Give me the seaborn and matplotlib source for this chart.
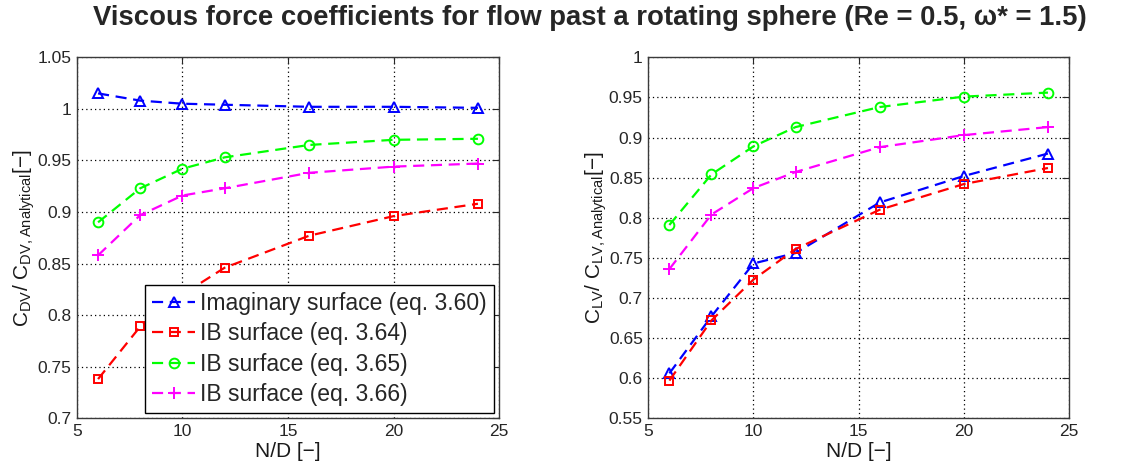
import matplotlib
matplotlib.use("Agg")
import matplotlib.pyplot as plt
from matplotlib.ticker import FuncFormatter, MultipleLocator
import seaborn as sns

# Grid resolution (cells per diameter)
nd = [6, 8, 10, 12, 16, 20, 24]

# Drag coefficient ratio C_DV / C_DV,Analytical
drag_imaginary = [1.015, 1.008, 1.005, 1.004, 1.002, 1.002, 1.001]
drag_eq364 = [0.738, 0.789, 0.820, 0.846, 0.877, 0.896, 0.908]
drag_eq365 = [0.890, 0.923, 0.942, 0.953, 0.965, 0.970, 0.971]
drag_eq366 = [0.858, 0.897, 0.916, 0.923, 0.938, 0.944, 0.947]

# Lift coefficient ratio C_LV / C_LV,Analytical
lift_imaginary = [0.606, 0.677, 0.743, 0.756, 0.819, 0.852, 0.880]
lift_eq364 = [0.597, 0.672, 0.723, 0.761, 0.810, 0.842, 0.862]
lift_eq365 = [0.791, 0.854, 0.889, 0.913, 0.938, 0.951, 0.956]
lift_eq366 = [0.736, 0.804, 0.837, 0.857, 0.888, 0.903, 0.913]

labels = ["Imaginary surface (eq. 3.60)", "IB surface (eq. 3.64)",
          "IB surface (eq. 3.65)", "IB surface (eq. 3.66)"]
title = "Viscous force coefficients for flow past a rotating sphere (Re = 0.5, ω* = 1.5)"

sns.set_theme(style="white")
plt.rcParams["font.family"] = ["Liberation Sans", "DejaVu Sans"]
plt.rcParams["mathtext.default"] = "regular"

styles = [
    dict(color=(0, 0, 1), marker="^", markersize=7.5),
    dict(color=(1, 0, 0), marker="s", markersize=5.5),
    dict(color=(0, 1, 0), marker="o", markersize=7),
    dict(color=(1, 0, 1), marker="+", markersize=9),
]

fig = plt.figure(figsize=(11.25, 4.72), dpi=100)
ax1 = fig.add_axes([0.0684, 0.1138, 0.3752, 0.7648])
ax2 = fig.add_axes([0.5763, 0.1138, 0.3739, 0.7648])

def draw(ax, series, with_labels):
    for vals, st, lab in zip(series, styles, labels):
        sns.lineplot(x=nd, y=vals, ax=ax, color=st["color"], marker=st["marker"],
                     markersize=st["markersize"], markerfacecolor="none",
                     markeredgecolor=st["color"], markeredgewidth=1.4,
                     linestyle=(0, (5, 3)), linewidth=1.6,
                     label=lab if with_labels else None, legend=False)

def style_axes(ax, ylo, yhi, ylabel):
    ax.set_xlim(5, 25)
    ax.set_ylim(ylo, yhi)
    ax.xaxis.set_major_locator(MultipleLocator(5))
    ax.yaxis.set_major_locator(MultipleLocator(0.05))
    fmt = FuncFormatter(lambda v, p: "%g" % round(v, 4))
    ax.xaxis.set_major_formatter(fmt)
    ax.yaxis.set_major_formatter(fmt)
    ax.grid(True, color="black", linestyle=(0, (1, 2.5)), linewidth=0.9)
    ax.tick_params(direction="in", length=5, width=0.8, top=True, right=True,
                   labelsize=12.5, colors="#262626", pad=4)
    for sp in ax.spines.values():
        sp.set_color("#3a3a3a")
        sp.set_linewidth(1.0)
    ax.set_xlabel("N/D [−]", fontsize=15, labelpad=2, color="#1a1a1a")
    ax.set_ylabel(ylabel, fontsize=15, labelpad=0, color="#1a1a1a")

draw(ax1, [drag_imaginary, drag_eq364, drag_eq365, drag_eq366], True)
draw(ax2, [lift_imaginary, lift_eq364, lift_eq365, lift_eq366], False)

style_axes(ax1, 0.7, 1.05, r"C$_{DV}$/ C$_{DV,Analytical}$[−]")
style_axes(ax2, 0.55, 1.0, r"C$_{LV}$/ C$_{LV,Analytical}$[−]")

leg = ax1.legend(loc="lower right", bbox_to_anchor=(0.987, 0.015), borderaxespad=0,
                 fontsize=16.5, frameon=True, fancybox=False, framealpha=1,
                 edgecolor="black", handlelength=1.9, handletextpad=0.2,
                 labelspacing=0.32, borderpad=0.3)
leg.get_frame().set_linewidth(1.0)

fig.suptitle(title, fontsize=19.8, fontweight="bold", x=0.524, y=0.99)

fig.savefig("out.png", dpi=100)
